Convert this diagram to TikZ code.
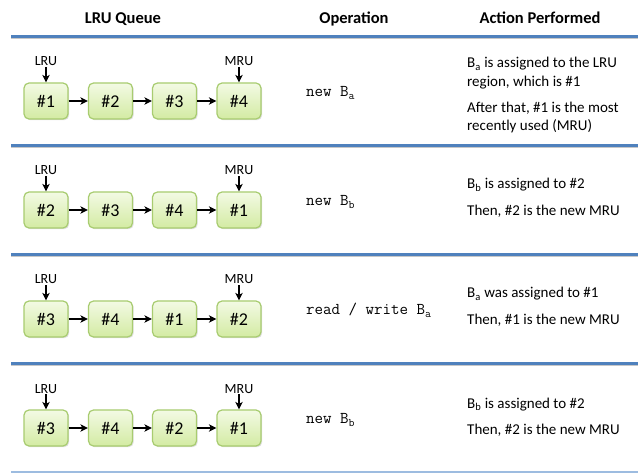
\documentclass[tikz,border=0pt]{standalone}
\usepackage{fontspec}
\setmainfont{Carlito}
\usetikzlibrary{arrows.meta,shadows}
\definecolor{hblue}{HTML}{4F81BD}
\definecolor{lblue}{HTML}{9DBCE0}
\definecolor{gtop}{HTML}{F3FAE4}
\definecolor{gbot}{HTML}{D3EBA3}
\definecolor{gdraw}{HTML}{A8CC70}
\tikzset{
  qbox/.style={draw=gdraw, line width=1.2pt, rounded corners=5pt,
    minimum width=44pt, minimum height=36pt, top color=gtop, bottom color=gbot,
    drop shadow={shadow xshift=1.2pt, shadow yshift=-1.2pt, opacity=0.25},
    font=\fontsize{18}{20}\selectfont, inner sep=0pt},
  hdr/.style={font=\fontsize{16.5}{20}\selectfont\bfseries, anchor=base, inner sep=0pt},
  lbl/.style={font=\fontsize{14}{16}\selectfont, anchor=base, inner sep=1pt},
  optext/.style={font=\fontsize{16.5}{18}\ttfamily, anchor=base west, inner sep=0pt},
  acttext/.style={font=\fontsize{15}{18}\selectfont, anchor=base west, inner sep=0pt},
  arr/.style={-{Stealth[length=7.5pt,width=7.5pt,inset=2pt]}, line width=1.3pt, black},
  sepline/.style={hblue, line width=2.5pt},
  sepshadow/.style={black!22, line width=1.5pt},
}
\begin{document}
\begin{tikzpicture}[x=1pt,y=-1pt]
\useasboundingbox (0,0) rectangle (638,473);
\fill[white] (0,0) rectangle (638,473);
% headers
\node[hdr] (h1) at (123,24) {LRU Queue};
\node[hdr] (h2) at (354,24) {Operation};
\node[hdr] (h3) at (540,24) {Action Performed};
% separator lines
\foreach \yy in {36.5,145.5,254.5,363.5}{
  \draw[sepshadow] (11,\yy+2) -- (638,\yy+2);
  \draw[sepline] (11,\yy) -- (638,\yy);
}
\draw[lblue, line width=1.5pt] (11,472) -- (638,472);
% queues
\foreach \r/\pa/\pb/\pc/\pd in {0/1/2/3/4, 1/2/3/4/1, 2/3/4/1/2, 3/3/4/2/1}{
  \pgfmathsetmacro{\d}{109*\r}
  \node[qbox] (b\r-1) at (46,101+\d) {\#\pa};
  \node[qbox] (b\r-2) at (110.5,101+\d) {\#\pb};
  \node[qbox] (b\r-3) at (174.5,101+\d) {\#\pc};
  \node[qbox] (b\r-4) at (239,101+\d) {\#\pd};
  \draw[arr] (b\r-1) -- (b\r-2);
  \draw[arr] (b\r-2) -- (b\r-3);
  \draw[arr] (b\r-3) -- (b\r-4);
  \node[lbl] (l\r) at (46,66+\d) {LRU};
  \node[lbl] (m\r) at (239,66+\d) {MRU};
  \draw[arr] (l\r.south) -- (b\r-1.north);
  \draw[arr] (m\r.south) -- (b\r-4.north);
}
% operations
\node[optext] (o0) at (306,97) {new B\textsubscript{a}};
\node[optext] (o1) at (306,206) {new B\textsubscript{b}};
\node[optext] (o2) at (306,315) {read / write B\textsubscript{a}};
\node[optext] (o3) at (306,424) {new B\textsubscript{b}};
% actions
\node[acttext] (a0a) at (467,68) {B\textsubscript{a} is assigned to the LRU};
\node[acttext] (a0b) at (467,86.5) {region, which is \#1};
\node[acttext] (a0c) at (467,112.7) {After that, \#1 is the most};
\node[acttext] (a0d) at (467,131) {recently used (MRU)};
\node[acttext] (a1a) at (467,189) {B\textsubscript{b} is assigned to \#2};
\node[acttext] (a1b) at (467,216) {Then, \#2 is the new MRU};
\node[acttext] (a2a) at (467,298) {B\textsubscript{a} was assigned to \#1};
\node[acttext] (a2b) at (467,325) {Then, \#1 is the new MRU};
\node[acttext] (a3a) at (467,408) {B\textsubscript{b} is assigned to \#2};
\node[acttext] (a3b) at (467,435) {Then, \#2 is the new MRU};
\end{tikzpicture}
\end{document}
